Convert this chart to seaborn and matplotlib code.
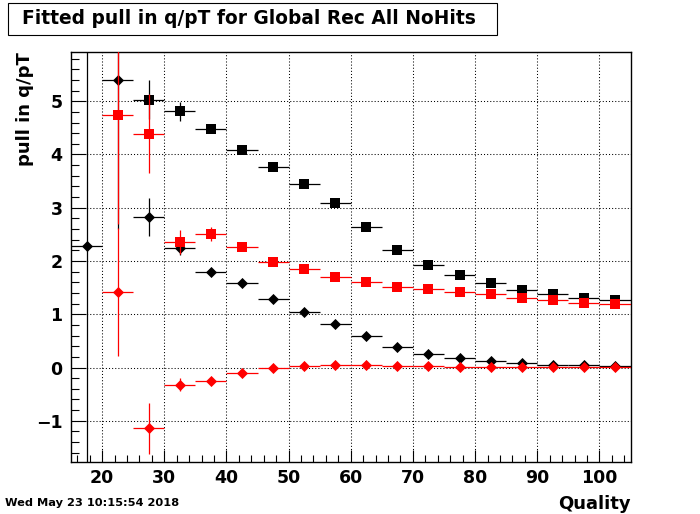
import numpy as np
import pandas as pd
import seaborn as sns
import matplotlib.pyplot as plt
from matplotlib.patches import Rectangle
from matplotlib.ticker import MultipleLocator

nan = np.nan

quality = [17.5, 22.5, 27.5, 32.5, 37.5, 42.5, 47.5, 52.5, 57.5,
           62.5, 67.5, 72.5, 77.5, 82.5, 87.5, 92.5, 97.5, 102.5]
bin_half = 2.5

# black diamonds
black_dia = [2.28, 5.40, 2.83, 2.25, 1.80, 1.59, 1.28, 1.04, 0.81,
             0.585, 0.38, 0.25, 0.175, 0.12, 0.08, 0.05, 0.045, 0.03]
black_dia_err = [20.0, 2.8, 0.36, 0.13, 0.05, 0.03, 0.02, 0.02, 0.02,
                 0.02, 0.02, 0.02, 0.02, 0.02, 0.02, 0.02, 0.02, 0.02]

# black squares
black_sq = [nan, nan, 5.03, 4.81, 4.47, 4.075, 3.77, 3.45, 3.09,
            2.64, 2.21, 1.92, 1.735, 1.585, 1.46, 1.38, 1.31, 1.26]
black_sq_err = [nan, nan, 0.36, 0.18, 0.06, 0.04, 0.03, 0.03, 0.03,
                0.03, 0.03, 0.03, 0.03, 0.03, 0.03, 0.03, 0.03, 0.03]

# red diamonds
red_dia = [nan, 1.415, -1.145, -0.32, -0.245, -0.095, 0.0, 0.02, 0.04,
           0.04, 0.02, 0.02, 0.005, 0.01, 0.005, 0.005, 0.005, 0.005]
red_dia_err = [nan, 1.2, 0.47, 0.13, 0.06, 0.04, 0.02, 0.02, 0.02,
               0.02, 0.02, 0.02, 0.02, 0.02, 0.02, 0.02, 0.02, 0.02]

# red squares
red_sq = [nan, 4.75, 4.39, 2.36, 2.50, 2.26, 1.98, 1.85, 1.70,
          1.60, 1.51, 1.47, 1.415, 1.38, 1.30, 1.265, 1.21, 1.19]
red_sq_err = [nan, 2.05, 0.74, 0.22, 0.13, 0.05, 0.03, 0.03, 0.03,
              0.03, 0.03, 0.03, 0.03, 0.03, 0.03, 0.03, 0.03, 0.03]

sns.set_theme(style="ticks")
plt.rcParams['font.family'] = ['DejaVu Sans']
plt.rcParams['font.weight'] = 'bold'
for key in ['text.color', 'axes.labelcolor', 'xtick.color', 'ytick.color', 'axes.edgecolor']:
    plt.rcParams[key] = 'black'

fig = plt.figure(figsize=(7, 5.14), dpi=100)
ax = fig.add_axes([71 / 700, 1 - 462.3 / 514, (630.5 - 71) / 700, (462.3 - 51.7) / 514])

series = [
    (black_dia, black_dia_err, 'black', 'D', 32),
    (black_sq, black_sq_err, 'black', 's', 44),
    (red_dia, red_dia_err, 'red', 'D', 32),
    (red_sq, red_sq_err, 'red', 's', 44),
]
z = 3
for vals, errs, col, mk, size in series:
    df = pd.DataFrame({'q': quality, 'v': vals, 'e': errs}).dropna()
    ax.errorbar(df['q'], df['v'], xerr=bin_half, yerr=df['e'], fmt='none',
                ecolor=col, elinewidth=0.9, capsize=0, zorder=z)
    sns.scatterplot(data=df, x='q', y='v', marker=mk, color=col, s=size,
                    linewidth=0, ax=ax, zorder=z + 0.5, legend=False)
    z += 1

ax.set_xlim(15, 105)
ax.set_ylim(-1.78, 5.93)
ax.xaxis.set_major_locator(MultipleLocator(10))
ax.xaxis.set_minor_locator(MultipleLocator(2))
ax.yaxis.set_major_locator(MultipleLocator(1))
ax.yaxis.set_minor_locator(MultipleLocator(0.2))
ax.set_xlabel('')
ax.set_ylabel('')
ax.tick_params(axis='both', which='both', direction='in', color='black',
               labelcolor='black', top=False, right=False, width=0.8)
ax.tick_params(axis='x', which='major', length=9, pad=5, labelsize=12.5)
ax.tick_params(axis='x', which='minor', length=5)
ax.tick_params(axis='y', which='major', length=11, pad=6, labelsize=12.5)
ax.tick_params(axis='y', which='minor', length=5.5)
ax.set_yticks(ax.get_yticks())
ax.set_yticklabels(['\u22121' if t == -1 else '%d' % t for t in ax.get_yticks()])
ax.set_ylim(-1.78, 5.93)
for lab in ax.get_xticklabels() + ax.get_yticklabels():
    lab.set_fontweight('bold')

ax.grid(True, which='major', color='black', linestyle=(0, (1, 2)), linewidth=0.75)
ax.set_axisbelow(True)
for sp in ax.spines.values():
    sp.set_color('black')
    sp.set_linewidth(1.0)

# title box
fig.patches.append(Rectangle((8 / 700, 1 - 35 / 514), 489 / 700, 32 / 514,
                             transform=fig.transFigure, fill=False,
                             edgecolor='black', linewidth=0.8))
fig.text(22 / 700, 1 - 19 / 514, 'Fitted pull in q/pT for Global Rec All NoHits',
         fontsize=13.4, fontweight='bold', ha='left', va='center', color='black')

fig.text(25 / 700, 1 - 51.7 / 514, 'pull in q/pT', rotation=90, fontsize=13,
         fontweight='bold', ha='center', va='top', color='black')
fig.text(630.5 / 700, 1 - 504 / 514, 'Quality', fontsize=13, fontweight='bold',
         ha='right', va='center', color='black')
fig.text(5 / 700, 1 - 503.5 / 514, 'Wed May 23 10:15:54 2018', fontsize=8.2,
         fontweight='bold', ha='left', va='center', color='black')

fig.savefig('out.png', dpi=100, facecolor='white')
